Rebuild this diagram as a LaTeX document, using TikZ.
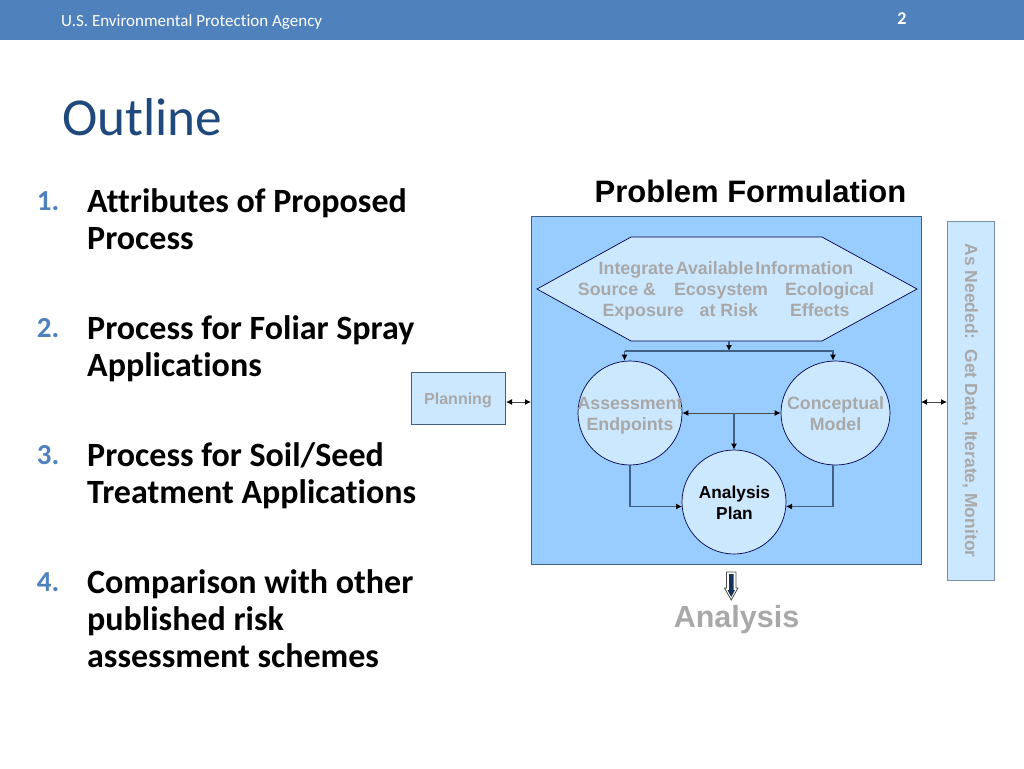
\documentclass[tikz,border=0pt]{standalone}
\usepackage{fontspec}
\setmainfont{Liberation Sans}
\newfontfamily\slidefont[Ligatures=NoCommon]{Carlito}
\usetikzlibrary{shapes, arrows.meta}

\definecolor{headerblue}{HTML}{4F81BD}
\definecolor{titleblue}{HTML}{1F497D}
\definecolor{panelblue}{HTML}{99CCFF}
\definecolor{paleblue}{HTML}{CCE8FF}
\definecolor{edgeblue}{HTML}{3F5F85}
\definecolor{fadedgray}{HTML}{A8A8A8}

\tikzset{
  item/.style={anchor=north west, align=left, inner sep=0pt, font=\slidefont\bfseries\fontsize{34}{37}\selectfont},
  itemnum/.style={anchor=north east, inner sep=0pt, text=headerblue, font=\slidefont\bfseries\fontsize{29}{37}\selectfont},
  roundbox/.style={ellipse, draw=black!70!blue, fill=paleblue, line width=0.7pt, inner sep=0pt},
  roundtxt/.style={inner sep=0pt, align=center, font=\bfseries\fontsize{17.8}{21}\selectfont},
  faded/.style={text=fadedgray},
  link/.style={draw=edgeblue, line width=1.1pt, -{Latex[length=6pt,width=6pt,black]}},
  twolink/.style={draw=black!70, line width=1pt, {Latex[length=6pt,width=6pt,black]}-{Latex[length=6pt,width=6pt,black]}}
}

\begin{document}
\begin{tikzpicture}[x=1pt, y=-1pt]
      \useasboundingbox (0, 0) rectangle (1024, 768);

      % Header
      \fill[headerblue] (0, 0) rectangle (1024, 40);
      \node[anchor=west, inner sep=0pt, text=white, font=\slidefont\fontsize{17}{19}\selectfont] (agency) at (61, 22) {U.S. Environmental Protection Agency};
      \node[text=white, inner sep=0pt, font=\slidefont\bfseries\fontsize{18}{20}\selectfont] (page) at (902, 18.5) {2};
      \node[anchor=west, inner sep=0pt, text=titleblue, font=\slidefont\fontsize{53.3}{56}\selectfont] (title) at (62, 117) {Outline};

      % List
      \node[itemnum] (n1) at (59.5, 191) {1.};
      \node[item] (i1) at (87, 188.5) {Attributes of Proposed\\Process};
      \node[itemnum] (n2) at (59.5, 318) {2.};
      \node[item] (i2) at (87, 315.5) {Process for Foliar Spray\\Applications};
      \node[itemnum] (n3) at (59.5, 445) {3.};
      \node[item] (i3) at (87, 442.5) {Process for Soil/Seed\\Treatment Applications};
      \node[itemnum] (n4) at (59.5, 572) {4.};
      \node[item] (i4) at (87, 569.5) {Comparison with other\\published risk\\assessment schemes};

      % Panel
      \node[inner sep=0pt, font=\bfseries\fontsize{31}{35}\selectfont] (head) at (750.5, 191) {Problem Formulation};
      \node[draw=edgeblue, fill=panelblue, line width=1pt, minimum width=390pt, minimum height=348pt, inner sep=0pt] (panel) at (726, 390) {};
      \node[draw=edgeblue!70, fill=paleblue, line width=1pt, minimum width=47pt, minimum height=359pt, inner sep=0pt] (needed) at (970.5, 400.5) {};
      \node[rotate=-90, faded, inner sep=0pt, font=\bfseries\fontsize{17.5}{20}\selectfont] (neededtxt) at (970, 400.5) {As Needed:\ \ Get Data, Iterate, Monitor};
      \node[draw=edgeblue, fill=paleblue, line width=1pt, minimum width=94pt, minimum height=52pt, inner sep=0pt] (planning) at (458, 398) {};
      \node[faded, inner sep=0pt, font=\bfseries\fontsize{16}{18}\selectfont] (planningtxt) at (458, 400) {Planning};

      % Hexagon
      \draw[draw=black!70!blue, fill=paleblue, line width=0.7pt] (537, 289) -- (631, 237) -- (822, 237) -- (917, 289) -- (822, 341) -- (631, 341) -- cycle;
      \node[roundtxt, faded] (info) at (726, 290.5)
        {Integrate\hspace{2pt}Available\hspace{2pt}Information\\Source \&\hspace{18pt}Ecosystem\hspace{17pt}Ecological\\Exposure\hspace{16pt}at Risk\hspace{32pt}Effects};

      % Circles
      \node[roundbox, minimum width=104pt, minimum height=104pt] (assess) at (630, 413) {};
      \node[roundtxt, faded] (assesstxt) at (630, 416) {Assessment\\Endpoints};
      \node[roundbox, minimum width=109pt, minimum height=104pt] (model) at (835.5, 413) {};
      \node[roundtxt, faded] (modeltxt) at (835.5, 414) {Conceptual\\Model};
      \node[roundbox, minimum width=104pt, minimum height=104pt] (plan) at (734, 502) {};
      \node[roundtxt, font=\bfseries\fontsize{17.3}{20.6}\selectfont] (plantxt) at (734.5, 503) {Analysis\\Plan};

      % Helper points
      \coordinate (bus) at (729, 351);
      \coordinate (busl) at (624.5, 351);
      \coordinate (busr) at (833, 351);
      \coordinate (mid) at (734, 413);
      \coordinate (planl) at (682, 506.5);
      \coordinate (planr) at (786, 506.5);

      % Connectors
      \draw[link] (729, 341) -- (bus);
      \draw[link] (busl) -- (busr) -- (busr |- model.north);
      \draw[link] (busl) -- (busl |- assess.north);
      \draw[twolink] (assess.east) -- (model.west);
      \draw[link] (mid) -- (plan.north);
      \draw[link] (assess.south) |- (planl);
      \draw[link] (833, 465) |- (planr);
      \draw[twolink] (506, 402) -- (531, 402);
      \draw[twolink] (921, 402) -- (947, 402);

      % Down arrow
      \node[inner sep=0pt, text=fadedgray, font=\bfseries\fontsize{30.5}{36}\selectfont] (result) at (736.5, 620) {Analysis};
      \draw[draw=black!70, fill=white, line width=0.8pt] (726.5, 572) -- (736, 572) -- (736, 588) -- (738, 588) -- (731.2, 600) -- (724.5, 588) -- (726.5, 588) -- cycle;
      \fill[titleblue!70!black] (729, 574) -- (733.5, 574) -- (733.5, 590) -- (735, 590) -- (731.2, 597) -- (727.5, 590) -- (729, 590) -- cycle;
    \end{tikzpicture}
\end{document}
